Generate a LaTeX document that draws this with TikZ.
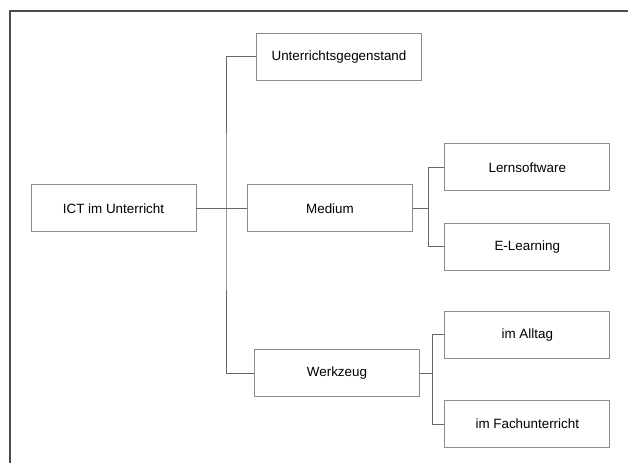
\documentclass[tikz,border=0pt]{standalone}
\usepackage{fontspec}
\setmainfont{Liberation Sans}
\begin{document}
\begin{tikzpicture}[x=1pt,y=1pt,
  box/.style={draw=black!45, line width=0.8pt, fill=white, minimum width=165pt, minimum height=47pt, inner sep=0pt, font=\fontsize{13.4}{15}\selectfont, text=black},
  conn/.style={draw=black!60, line width=0.8pt},
  frame/.style={draw=black!70, line width=1.3pt}]
\useasboundingbox (0,0) rectangle (628,-463);
\fill[white] (0,0) rectangle (628,-463);
\draw[frame] (10,-463) -- (10,-11) -- (628,-11);

\node[box] (ict) at (113.5,-208.3) {ICT im Unterricht};
\node[box] (ug)  at (339,-56.7) {Unterrichtsgegenstand};
\node[box] (med) at (330,-208.3) {Medium};
\node[box] (wz)  at (337,-373) {Werkzeug};
\node[box] (ls)  at (527.3,-167.3) {Lernsoftware};
\node[box] (el)  at (527.3,-246.7) {E-Learning};
\node[box] (al)  at (527.3,-334.8) {im Alltag};
\node[box] (fu)  at (527.3,-424) {im Fachunterricht};

\coordinate (t) at (226,-208.3);
\coordinate (m) at (428.5,-208.3);
\coordinate (w) at (432.3,-373);

\draw[conn] (ict.east) -- (med.west);
\draw[conn] (ug.west) -| (t) |- (wz.west);
\draw[conn] (med.east) -- (m);
\draw[conn] (ls.west) -| (m) |- (el.west);
\draw[conn] (wz.east) -- (w);
\draw[conn] (al.west) -| (w) |- (fu.west);
\end{tikzpicture}
\end{document}
